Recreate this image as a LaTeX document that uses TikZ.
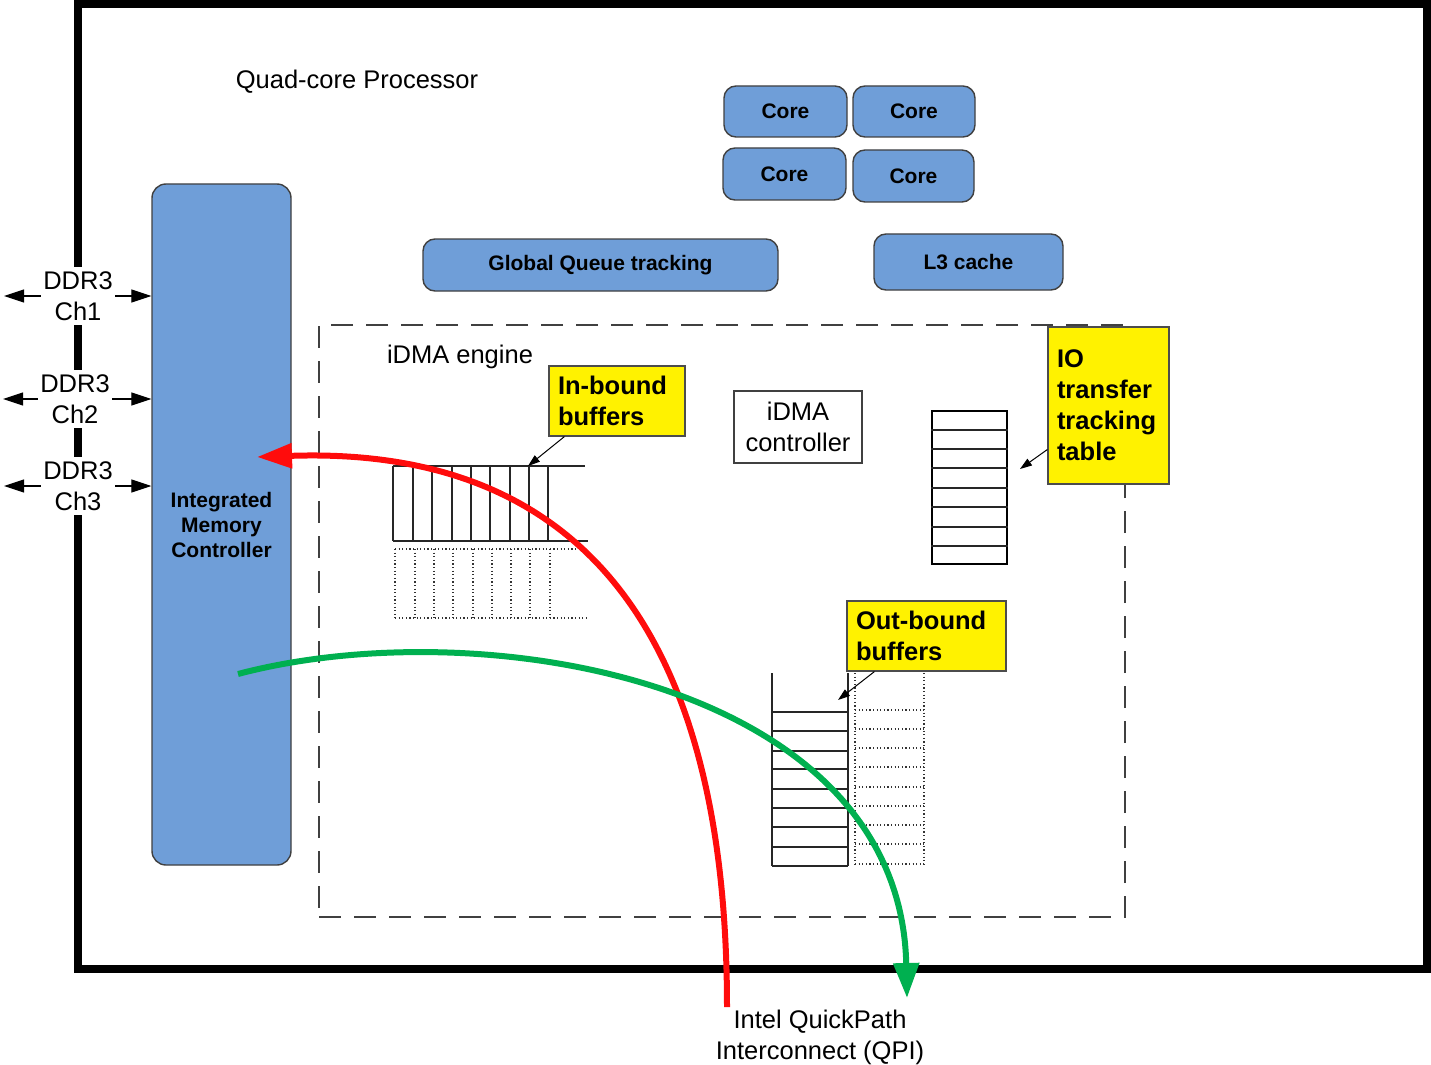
\documentclass[tikz,border=0pt]{standalone}
\usepackage{fontspec}
\setmainfont{Liberation Sans}
\usetikzlibrary{arrows.meta,calc}
\definecolor{boxblue}{RGB}{111,158,216}
\definecolor{qred}{RGB}{255,12,12}
\definecolor{qgreen}{RGB}{0,176,80}
\begin{document}
\begin{tikzpicture}[x=0.5pt,y=-0.5pt,
  bluebox/.style={draw=black!75, line width=0.7pt, fill=boxblue, rounded corners=6pt,
    font=\fontsize{10.5}{12.5}\selectfont\bfseries, inner sep=0pt, align=center},
  notebox/.style={draw=black!70, line width=0.6pt, fill=yellow,
    font=\fontsize{12.75}{15.5}\selectfont\bfseries, align=left, inner xsep=4.5pt, inner ysep=0pt},
  plain/.style={font=\fontsize{12.75}{15.5}\selectfont, align=center},
  ddrlabel/.style={plain, fill=white, inner xsep=1pt, inner ysep=2pt},
  ddrarrow/.style={line width=0.6pt, -{Triangle[length=10pt,width=6.5pt]}},
  notearrow/.style={line width=0.5pt, -{Triangle[length=6pt,width=4pt]}},
  buf/.style={line width=0.6pt, black!85},
  dotbuf/.style={line width=0.6pt, black!80, dash pattern=on 0.6pt off 1.2pt},
  flow/.style={line width=3pt}]
\useasboundingbox (0,0) rectangle (1431,1065);

% processor frame
\node[draw, line width=4pt, minimum width=674.5pt, minimum height=482.5pt, inner sep=0pt] (chip) at (752.5,486.5) {};
\node[plain] (title) at (357,82) {Quad-core Processor};

% iDMA engine region
\node[draw=black!75, line width=0.8pt, dash pattern=on 11pt off 6.5pt, minimum width=403pt, minimum height=296pt, inner sep=0pt] (idma) at (722,621) {};
\node[plain] (idmalabel) at (460,357) {iDMA engine};

% cores and shared blocks
\node[bluebox, minimum width=61.5pt, minimum height=25.5pt] (core1) at (785.5,111.5) {Core};
\node[bluebox, minimum width=61pt, minimum height=25.5pt] (core2) at (914,111.5) {Core};
\node[bluebox, minimum width=61.5pt, minimum height=26pt] (core3) at (784.5,174) {Core};
\node[bluebox, minimum width=60.5pt, minimum height=26pt] (core4) at (913.5,176) {Core};
\node[bluebox, minimum width=177.5pt, minimum height=26pt] (gq) at (600.5,265) {Global Queue tracking};
\node[bluebox, minimum width=94.5pt, minimum height=28pt] (l3) at (968.5,262) {L3 cache};
\node[bluebox, rounded corners=7pt, minimum width=69.5pt, minimum height=340.5pt] (imc) at (221.5,524.5) {Integrated\\Memory\\Controller};

% iDMA controller
\node[draw=black!75, line width=0.7pt, plain, minimum width=64pt, minimum height=36pt, inner sep=0pt] (ctrl) at (798,427) {iDMA\\controller};

% in-bound buffers
\foreach \x in {393,413,432,452,471,490,510,529,548} \draw[buf] (\x,466) -- (\x,541);
\draw[buf] (393,466) -- (585,466);
\draw[buf] (393,541) -- (588,541);
\foreach \x in {395,415,434,453,473,492,511,530,550} \draw[dotbuf] (\x,549) -- (\x,618);
\draw[dotbuf] (395,549) -- (580,549);
\draw[dotbuf] (395,618) -- (589,618);
\coordinate (inbuf) at (528,466);

% out-bound buffers
\draw[buf] (772,673) -- (772,866);
\draw[buf] (848,673) -- (848,866);
\foreach \y in {712,731,751,769,789,808,827,847,866} \draw[buf] (772,\y) -- (848,\y);
\draw[dotbuf] (855,673) -- (855,864);
\draw[dotbuf] (924,673) -- (924,864);
\foreach \y in {710,729,748,767,787,806,825,844,864} \draw[dotbuf] (855,\y) -- (924,\y);
\coordinate (outbuf) at (838,700);

% IO transfer tracking table
\node[draw, line width=0.6pt, minimum width=37.5pt, minimum height=76.5pt, inner sep=0pt] (iotable) at (969.5,487.5) {};
\foreach \y in {430,449,468,488,507,527,546} \draw[buf] (iotable.west |- 0,\y) -- (iotable.east |- 0,\y);
\coordinate (iotab) at (1020,469);

% yellow notes
\node[notebox, text width=59pt, minimum height=35pt] (innote) at (617,401) {In-bound\\buffers};
\node[notebox, text width=70.5pt, minimum height=35pt] (outnote) at (926.5,636) {Out-bound\\buffers};
\node[notebox, text width=51.5pt, minimum height=78.5pt] (ionote) at (1108.5,405.5) {IO\\transfer\\tracking\\table};
\draw[notearrow] ($(innote.south west)+(16,0)$) -- (inbuf);
\draw[notearrow] ($(outnote.south west)+(28,0)$) -- (outbuf);
\draw[notearrow] ($(ionote.west)+(0,44)$) -- (iotab);

% QPI label and data flows
\node[plain] (qpi) at (820,1037) {Intel QuickPath\\Interconnect (QPI)};
\coordinate (redstart) at (727,1007);
\coordinate (redtip) at (257,457);
\coordinate (greenstart) at (238,674);
\coordinate (greentip) at (907,998);
\draw[flow, qred, -{Triangle[length=17.5pt,width=12pt]}] (redstart) .. controls (727,560) and (520,448) .. (redtip);
\draw[flow, qgreen, -{Triangle[length=17.5pt,width=12.5pt]}] (greenstart) .. controls (480,610) and (900,680) .. (greentip);

% DDR3 channels
\node[ddrlabel] (ddr1) at (78,296) {DDR3\\Ch1};
\node[ddrlabel] (ddr2) at (75,399) {DDR3\\Ch2};
\node[ddrlabel] (ddr3) at (78,486) {DDR3\\Ch3};
\coordinate (ddr1out) at (4,296);
\coordinate (ddr2out) at (3,399);
\coordinate (ddr3out) at (4,486);
\draw[ddrarrow] (ddr1.west) -- (ddr1out);
\draw[ddrarrow] (ddr2.west) -- (ddr2out);
\draw[ddrarrow] (ddr3.west) -- (ddr3out);
\draw[ddrarrow] (ddr1.east) -- (ddr1.east -| imc.west);
\draw[ddrarrow] (ddr2.east) -- (ddr2.east -| imc.west);
\draw[ddrarrow] (ddr3.east) -- (ddr3.east -| imc.west);
\end{tikzpicture}
\end{document}
